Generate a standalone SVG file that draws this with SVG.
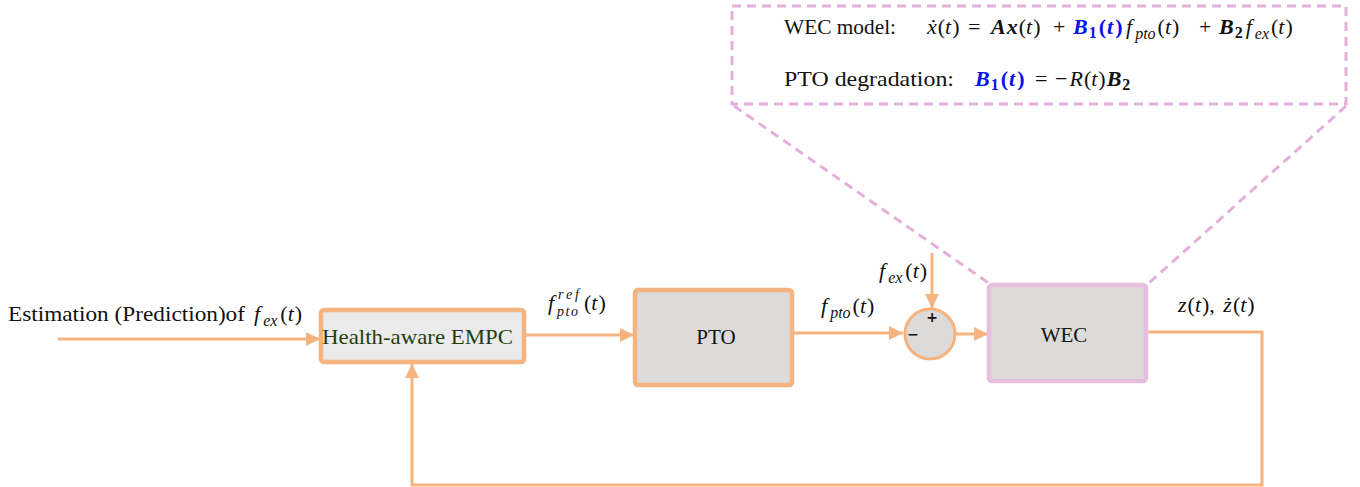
<svg xmlns="http://www.w3.org/2000/svg" width="1360" height="487" viewBox="0 0 1360 487">
<style>
.t{font-family:"Liberation Serif","DejaVu Serif",serif;font-size:21px;fill:#111}
.mt{font-family:"Liberation Serif","DejaVu Serif",serif;font-size:22px;fill:#111}
.m{font-style:italic}
.b{font-weight:bold;font-style:italic}
.bn{font-weight:bold;font-style:normal}
.blue{fill:#0a10f0}
.sub{font-size:16px;font-style:italic}
.num{font-size:16px;font-weight:bold}
.ln{stroke:#f5b47f;stroke-width:3;fill:none}
.blk{fill:#dcdbd9;stroke:#f5b47f;stroke-width:4.5}
.dash{stroke:#e4b0da;stroke-width:3;fill:none;stroke-dasharray:9,6}
.sign{font-family:"DejaVu Sans",sans-serif;font-weight:bold;font-size:14px;fill:#111}
</style>
<defs>
<marker id="ah" markerUnits="userSpaceOnUse" markerWidth="16" markerHeight="16" refX="15" refY="8" orient="auto">
<path d="M1,1 L15,8 L1,15 Z" fill="#f5b47f"/>
</marker>
</defs>
<g id="zoom-box">
<rect x="732" y="6" width="614" height="98" class="dash"/>
<line x1="734" y1="106" x2="990" y2="284" class="dash"/>
<line x1="1346" y1="106" x2="1149" y2="283" class="dash"/>
<text class="t" x="784" y="34" textLength="112" lengthAdjust="spacingAndGlyphs">WEC model:</text>
<text class="mt" y="34"><tspan class="m" x="927">ẋ</tspan><tspan dx="1">(</tspan><tspan class="m">t</tspan><tspan dx="1">)</tspan><tspan x="968">=</tspan><tspan class="b" x="991">A</tspan><tspan class="b" dx="1">x</tspan><tspan dx="1">(</tspan><tspan class="m">t</tspan><tspan dx="1">)</tspan><tspan x="1053">+</tspan><tspan class="b blue" x="1073">B</tspan><tspan class="num blue" dx="1" dy="4">1</tspan><tspan class="bn blue" dx="2" dy="-4">(</tspan><tspan class="b blue" dx="1">t</tspan><tspan class="bn blue" dx="2">)</tspan><tspan class="m" x="1126">f</tspan><tspan class="sub" dx="3" dy="5">pto</tspan><tspan dx="2" dy="-5">(</tspan><tspan class="m">t</tspan><tspan dx="1">)</tspan><tspan x="1199">+</tspan><tspan class="b" x="1219">B</tspan><tspan class="num" dx="1" dy="4">2</tspan><tspan class="m" dx="3" dy="-4">f</tspan><tspan class="sub" dx="3" dy="5">ex</tspan><tspan dx="2" dy="-5">(</tspan><tspan class="m">t</tspan><tspan dx="1">)</tspan></text>
<text class="t" x="784" y="86" textLength="170" lengthAdjust="spacingAndGlyphs">PTO degradation:</text>
<text class="mt" y="86"><tspan class="b blue" x="975">B</tspan><tspan class="num blue" dx="1" dy="4">1</tspan><tspan class="bn blue" dx="2" dy="-4">(</tspan><tspan class="b blue" dx="1">t</tspan><tspan class="bn blue" dx="2">)</tspan><tspan x="1035">=</tspan><tspan x="1055">−</tspan><tspan class="m" dx="2">R</tspan><tspan dx="1">(</tspan><tspan class="m">t</tspan><tspan dx="1">)</tspan><tspan class="b" dx="1">B</tspan><tspan class="num" dx="1" dy="4">2</tspan></text>
</g>
<g id="connectors">
<line x1="58" y1="339" x2="320" y2="339" class="ln" marker-end="url(#ah)"/>
<line x1="524" y1="335" x2="634" y2="335" class="ln" marker-end="url(#ah)"/>
<line x1="792" y1="333" x2="903" y2="333" class="ln" marker-end="url(#ah)"/>
<line x1="956" y1="334" x2="988" y2="334" class="ln" marker-end="url(#ah)"/>
<line x1="932" y1="253" x2="932" y2="308" class="ln" marker-end="url(#ah)"/>
<polyline points="1146,332 1262,332 1262,485 412,485 412,364" class="ln" marker-end="url(#ah)"/>
</g>
<g id="labels">
<text class="t" x="8" y="321" textLength="237" lengthAdjust="spacingAndGlyphs">Estimation (Prediction)of</text>
<text class="mt" y="321"><tspan class="m" x="254">f</tspan><tspan class="sub" dx="3" dy="5">ex</tspan><tspan dx="3" dy="-5">(</tspan><tspan class="m">t</tspan><tspan dx="1">)</tspan></text>
<text class="mt m" x="548" y="310">f</text>
<text class="mt" x="558" y="299" textLength="21" lengthAdjust="spacing" style="font-size:14px;font-style:italic">ref</text>
<text class="mt" x="557" y="316" textLength="21" lengthAdjust="spacing" style="font-size:14px;font-style:italic">pto</text>
<text class="mt" y="310"><tspan x="584">(</tspan><tspan class="m">t</tspan><tspan dx="1">)</tspan></text>
<text class="mt" y="313"><tspan class="m" x="821">f</tspan><tspan class="sub" dx="3" dy="5">pto</tspan><tspan dx="2" dy="-5">(</tspan><tspan class="m">t</tspan><tspan dx="1">)</tspan></text>
<text class="mt" y="278"><tspan class="m" x="879">f</tspan><tspan class="sub" dx="3" dy="5">ex</tspan><tspan dx="3" dy="-5">(</tspan><tspan class="m">t</tspan><tspan dx="1">)</tspan></text>
<text class="mt" y="312"><tspan class="m" x="1178">z</tspan><tspan dx="1">(</tspan><tspan class="m">t</tspan><tspan dx="1">)</tspan><tspan>, </tspan><tspan class="m" dx="3">ż</tspan><tspan dx="1">(</tspan><tspan class="m">t</tspan><tspan dx="1">)</tspan></text>
</g>
<g id="empc">
<rect x="321" y="310" width="203" height="52" rx="3" fill="#ebebeb" stroke="#f5b47f" stroke-width="4.5"/>
<text class="t" x="322" y="344" textLength="191" lengthAdjust="spacingAndGlyphs" style="fill:#1e3f12">Health-aware EMPC</text>
</g>
<g id="pto">
<rect x="635" y="290" width="157" height="95" rx="3" class="blk"/>
<text class="t" x="716" y="344" text-anchor="middle">PTO</text>
</g>
<g id="sum">
<circle cx="930" cy="334" r="25" fill="#dcdbd9" stroke="#f5b47f" stroke-width="3"/>
<text class="sign" x="932" y="322" text-anchor="middle">+</text>
<text class="sign" x="913" y="339" text-anchor="middle">−</text>
</g>
<g id="wec">
<rect x="989" y="285" width="157" height="96" rx="3" fill="#dcdbd9" stroke="#e6bddf" stroke-width="4.5"/>
<text class="t" x="1064" y="342" text-anchor="middle">WEC</text>
</g>
</svg>
